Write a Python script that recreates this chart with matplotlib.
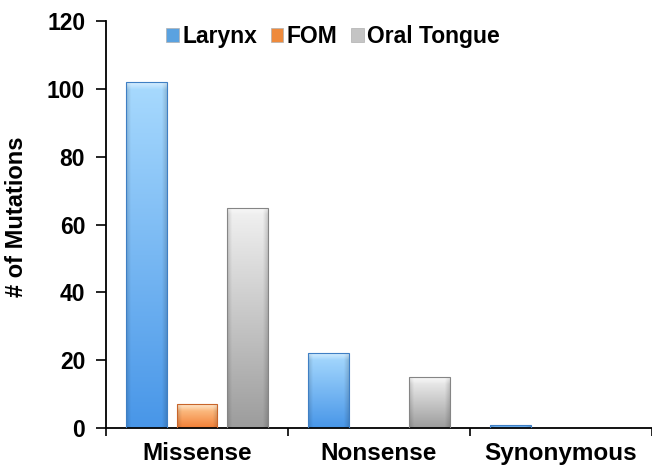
import numpy as np
import matplotlib
matplotlib.use('Agg')
import matplotlib.pyplot as plt
from matplotlib.colors import to_rgb
from matplotlib.patches import Patch

plt.rcParams['font.family'] = ['Liberation Sans', 'DejaVu Sans']
plt.rcParams['font.weight'] = 'bold'

categories = ['Missense', 'Nonsense', 'Synonymous']
series = ['Larynx', 'FOM', 'Oral Tongue']
larynx = [102, 22, 1]
fom = [7, 0, 0]
oral_tongue = [65, 15, 0]
values = [larynx, fom, oral_tongue]

# (top colour, bottom colour, edge colour) for the gradient fills
palette = {
    'Larynx': ('#a8dafe', '#4896e8', '#3f7fc4'),
    'FOM': ('#ffcf9a', '#f27f36', '#c8652a'),
    'Oral Tongue': ('#f2f2f2', '#9c9c9c', '#858585'),
}
legend_colors = {'Larynx': '#5aa2e0', 'FOM': '#ee8a3c', 'Oral Tongue': '#c4c4c4'}


def gradient_fill(ax, bar, top, bottom, edge):
    x, y = bar.get_x(), bar.get_y()
    w, h = bar.get_width(), bar.get_height()
    if h <= 0:
        return
    n_rows, n_cols = 200, 60
    t = np.linspace(1, 0, n_rows)[:, None]          # 1 at top, 0 at bottom
    top_c, bot_c = np.array(to_rgb(top)), np.array(to_rgb(bottom))
    img = bot_c + (top_c - bot_c) * t[..., None]
    img = np.repeat(img, n_cols, axis=1)
    # darker side edges
    u = np.linspace(0, 1, n_cols)
    side = np.clip(np.minimum(u, 1 - u) / 0.12, 0, 1)
    img = img * (0.85 + 0.15 * side)[None, :, None]
    # bevel highlight on the top
    band = min(2.0, h * 0.35)
    depth = (1 - t[:, 0]) * h
    hl = np.clip(1 - depth / band, 0, 1)[:, None, None]
    img = img + (1 - img) * 0.5 * hl
    img = np.clip(img, 0, 1)
    im = ax.imshow(img, extent=[x, x + w, y, y + h], aspect='auto',
                   interpolation='bilinear', zorder=2)
    im.set_clip_path(bar)
    bar.set_edgecolor(edge)
    bar.set_linewidth(0.8)


fig = plt.figure(figsize=(6.52, 4.74), dpi=100)
ax = fig.add_axes([0.1626, 0.097, 0.8374, 0.8587])

x = np.arange(len(categories))
width = 0.225
offsets = [-0.275, 0, 0.275]
for name, vals, off in zip(series, values, offsets):
    top, bottom, edge = palette[name]
    bars = ax.bar(x + off, vals, width, color='none', zorder=3)
    for b in bars:
        gradient_fill(ax, b, top, bottom, edge)

ax.set_xlim(-0.5, 2.5)
ax.set_ylim(0, 120)
ax.set_yticks(np.arange(0, 121, 20))
ax.set_xticks(x)
ax.set_xticklabels(categories, fontsize=17.5, fontweight='bold')
ax.set_xticks([-0.5, 0.5, 1.5, 2.5], minor=True)
ax.tick_params(axis='x', which='major', length=0, pad=10)
ax.tick_params(axis='x', which='minor', length=6, width=1.2, direction='out')
ax.tick_params(axis='y', length=7, width=1.2, labelsize=16.5, pad=8)
for lbl in ax.get_yticklabels():
    lbl.set_fontweight('bold')

for s in ['top', 'right']:
    ax.spines[s].set_visible(False)
for s in ['left', 'bottom']:
    ax.spines[s].set_linewidth(1.3)

ax.set_ylabel('# of Mutations', fontsize=17, fontweight='bold')
ax.yaxis.set_label_coords(-0.143, 0.52)

handles = [Patch(facecolor=legend_colors[n], edgecolor='#b0b0b0', linewidth=0.5) for n in series]
fig.legend(handles, series, loc='center left', bbox_to_anchor=(0.223, 0.922),
           ncol=3, frameon=False, prop={'size': 16.5, 'weight': 'bold'},
           handlelength=0.55, handleheight=0.55, handletextpad=0.15,
           columnspacing=0.6)

fig.savefig('out.png', dpi=100)
